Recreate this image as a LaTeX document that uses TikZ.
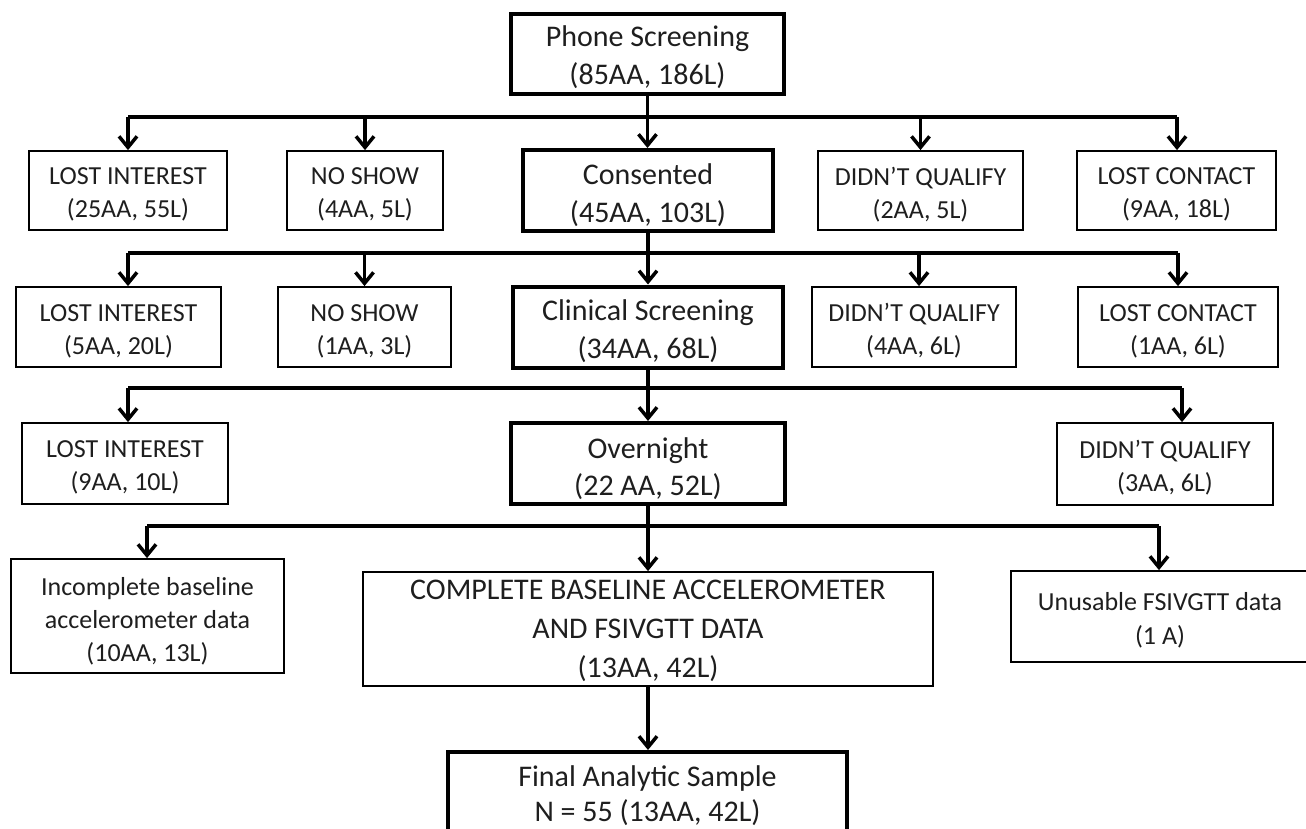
\documentclass[tikz,border=0pt]{standalone}
\usepackage{fontspec}
\setmainfont{Carlito}
\usetikzlibrary{arrows.meta}
\definecolor{txt}{HTML}{1E1E1E}
% #1 text shift, #2 style, #3 name, #4 x, #5 y, #6 width, #7 height, #8 text
\newcommand\flowbox[8][4]{%
  \node[#2, minimum width=#6pt, minimum height=#7pt] (#3) at (#4,#5) {};
  \node[#2, draw=none, minimum width=0pt, minimum height=0pt] (#3-t) at ([yshift=-#1pt]#3.center) {#8};}
\begin{document}
\begin{tikzpicture}[x=1pt,y=-1pt,
  every node/.style={align=center, inner sep=0pt, text=txt},
  sbox/.style={draw=black, line width=1.8pt, font=\fontsize{26}{33}\selectfont},
  bbox/.style={draw=black, line width=4pt, font=\fontsize{30}{38}\selectfont},
  ln/.style={line width=3.5pt, draw=black, line join=miter},
  arr/.style={ln, -{Straight Barb[length=11pt,width=18pt]}},
]
\useasboundingbox (0,0) rectangle (1306,828);
\clip (0,0) rectangle (1306,828);

% level 0
\flowbox[3]{bbox}{phone}{647.5}{54}{273}{80}{Phone Screening\\(85AA, 186L)}

% level 1
\flowbox{sbox}{li1}{128}{190.5}{198}{79}{LOST INTEREST\\(25AA, 55L)}
\flowbox{sbox}{ns1}{365}{190.5}{156}{79}{NO SHOW\\(4AA, 5L)}
\flowbox[5]{bbox}{cons}{648}{190.5}{250}{81}{Consented\\(45AA, 103L)}
\flowbox{sbox}{dq1}{920.5}{190.5}{205}{79}{DIDN’T QUALIFY\\(2AA, 5L)}
\flowbox{sbox}{lc1}{1176.5}{190.5}{199}{79}{LOST CONTACT\\(9AA, 18L)}

% level 2
\flowbox{sbox}{li2}{118.5}{327}{205}{80}{LOST INTEREST\\(5AA, 20L)}
\flowbox{sbox}{ns2}{364.5}{327}{173}{80}{NO SHOW\\(1AA, 3L)}
\flowbox{bbox}{clin}{648}{327}{270}{81}{Clinical Screening\\(34AA, 68L)}
\flowbox{sbox}{dq2}{914}{327}{204}{80}{DIDN’T QUALIFY\\(4AA, 6L)}
\flowbox{sbox}{lc2}{1178}{327}{200}{80}{LOST CONTACT\\(1AA, 6L)}

% level 3
\flowbox{sbox}{li3}{125}{463.5}{206}{81}{LOST INTEREST\\(9AA, 10L)}
\flowbox[5]{bbox,font=\fontsize{30}{37}\selectfont}{over}{648}{463.5}{274}{81}{Overnight\\(22 AA, 52L)}
\flowbox[4]{sbox}{dq3}{1165}{464}{216}{82}{DIDN’T QUALIFY\\(3AA, 6L)}

% level 4
\flowbox[5]{sbox}{inc}{147.5}{616}{273}{114}{Incomplete baseline\\accelerometer data\\(10AA, 13L)}
\flowbox[2]{sbox,font=\fontsize{30}{39}\selectfont}{comp}{648}{629}{570}{114}{COMPLETE BASELINE ACCELEROMETER\\AND FSIVGTT DATA\\(13AA, 42L)}
\flowbox[4]{sbox,font=\fontsize{26}{34}\selectfont}{unus}{1160}{616.5}{298}{91}{Unusable FSIVGTT data\\(1 A)}

% level 5
\flowbox[0]{bbox,font=\fontsize{30}{35}\selectfont}{final}{647.5}{796}{399}{88}{Final Analytic Sample\\N = 55 (13AA, 42L)}

% bus coordinates
\coordinate (b1l) at (128,117);  \coordinate (b1r) at (1177,117);
\coordinate (b2l) at (128,253);  \coordinate (b2r) at (1178,253);
\coordinate (b3l) at (128,388);  \coordinate (b3r) at (1182,388);
\coordinate (b4l) at (147,526);  \coordinate (b4r) at (1159,526);

% main flow
\draw[arr] (phone.south) -- (phone.south |- cons.north);
\draw[arr] (cons.south) -- (cons.south |- clin.north);
\draw[arr] (clin.south) -- (clin.south |- over.north);
\draw[arr] (over.south) -- (over.south |- comp.north);
\draw[arr] (comp.south) -- (comp.south |- final.north);

% level 1 branches
\draw[ln] (b1l) -- (b1r);
\draw[arr] (b1l) -- (b1l |- li1.north);
\draw[arr] (ns1.north |- b1l) -- (ns1.north);
\draw[arr] (dq1.north |- b1l) -- (dq1.north);
\draw[arr] (b1r) -- (b1r |- lc1.north);

% level 2 branches
\draw[ln] (b2l) -- (b2r);
\draw[arr] (b2l) -- (b2l |- li2.north);
\draw[arr] (ns2.north |- b2l) -- (ns2.north);
\draw[arr] ([xshift=5pt]dq2.north |- b2l) -- ([xshift=5pt]dq2.north);
\draw[arr] (b2r) -- (b2r |- lc2.north);

% level 3 branches
\draw[ln] (b3l) -- (b3r);
\draw[arr] (b3l) -- (b3l |- li3.north);
\draw[arr] (b3r) -- (b3r |- dq3.north);

% level 4 branches
\draw[ln] (b4l) -- (b4r);
\draw[arr] (b4l) -- (b4l |- inc.north);
\draw[arr] (b4r) -- (b4r |- unus.north);
\end{tikzpicture}
\end{document}
